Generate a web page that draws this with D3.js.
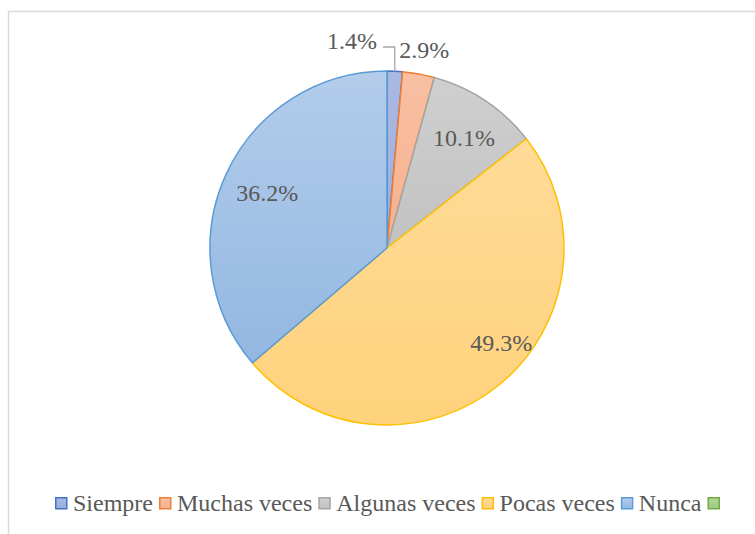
<!DOCTYPE html>
<html><head><meta charset="utf-8">
<script src="https://cdn.jsdelivr.net/npm/d3@7/dist/d3.min.js"></script>
<style>html,body{margin:0;padding:0;background:#fff;overflow:hidden}</style>
</head><body>
<svg id="c" width="755" height="534"></svg>
<script>
const categories = ["Siempre", "Muchas veces", "Algunas veces", "Pocas veces", "Nunca", ""];
const values = [1.4, 2.9, 10.1, 49.3, 36.2];
const labels = ["1.4%", "2.9%", "10.1%", "49.3%", "36.2%"];

const fillTop = ["#aab9e3", "#f9c0a3", "#cfcfcf", "#ffdb98", "#b3cdea", "#b0d699"];
const fillBot = ["#9aaedc", "#f5b08e", "#c2c2c2", "#ffd27c", "#93b7e2", "#9fcb84"];
const strokes = ["#4472c4", "#ed7d31", "#a5a5a5", "#ffc000", "#5b9bd5", "#70ad47"];

const svg = d3.select("#c");
const W = 755, H = 534;
const cx = 387, cy = 248, R = 177;
const txtColor = "#595959";
const font = '"Liberation Serif"';

// frame
svg.append("rect").attr("x", 8.5).attr("y", 11.5).attr("width", W + 10).attr("height", H + 10)
  .attr("fill", "#fff").attr("stroke", "#d9d9d9").attr("stroke-width", 1.5);

const defs = svg.append("defs");
categories.forEach((c, i) => {
  const g = defs.append("linearGradient").attr("id", "g" + i)
    .attr("x1", 0).attr("y1", 0).attr("x2", 0).attr("y2", 1);
  g.append("stop").attr("offset", "0%").attr("stop-color", fillTop[i]);
  g.append("stop").attr("offset", "100%").attr("stop-color", fillBot[i]);
});

const pie = d3.pie().sort(null).value(d => d);
const arcs = pie(values);
const arc = d3.arc().innerRadius(0).outerRadius(R);

const g = svg.append("g").attr("transform", `translate(${cx},${cy})`);
g.selectAll("path.s").data(arcs).enter().append("path")
  .attr("d", arc)
  .attr("fill", (d, i) => `url(#g${i})`)
  .attr("stroke", (d, i) => strokes[i])
  .attr("stroke-width", 1.5)
  .attr("stroke-linejoin", "round");

// label placement (layout): radius factor and angle shift in degrees
const lr = [null, 1.14, 0.763, 0.84, 0.746];
const la = [0, 0.4, 1.1, -11, 0];
const pt = (a, r) => [Math.sin(a) * r, -Math.cos(a) * r];

arcs.forEach((d, i) => {
  const mid = (d.startAngle + d.endAngle) / 2;
  if (i === 0) {
    const p0 = pt(mid, R);
    const yTop = 47 - cy;
    const xEnd = 383 - cx;
    g.append("path").attr("d", `M${p0[0]},${p0[1]}L${p0[0]},${yTop}L${xEnd},${yTop}`)
      .attr("fill", "none").attr("stroke", "#a6a6a6").attr("stroke-width", 1.3);
    g.append("text").attr("x", xEnd - 6).attr("y", yTop - 6)
      .attr("text-anchor", "end").attr("dy", "0.35em")
      .style("font-family", font).attr("font-size", 24).attr("fill", txtColor)
      .text(labels[i]);
  } else {
    const p = pt(mid + la[i] * Math.PI / 180, R * lr[i]);
    g.append("text").attr("x", p[0]).attr("y", p[1])
      .attr("text-anchor", "middle").attr("dy", "0.35em")
      .style("font-family", font).attr("font-size", 24).attr("fill", txtColor)
      .text(labels[i]);
  }
});

// legend
const leg = svg.append("g");
let x = 55;
const ly = 503;
categories.forEach((c, i) => {
  leg.append("rect").attr("x", x + 0.75).attr("y", ly - 6 + 0.75).attr("width", 11).attr("height", 11)
    .attr("fill", `url(#g${i})`).attr("stroke", strokes[i]).attr("stroke-width", 1.5);
  x += 18;
  if (c) {
    const t = leg.append("text").attr("x", x).attr("y", ly).attr("dy", "0.35em")
      .style("font-family", font).attr("font-size", 24).attr("fill", txtColor).text(c);
    x += t.node().getComputedTextLength() + 6;
  }
});
</script>
</body></html>
